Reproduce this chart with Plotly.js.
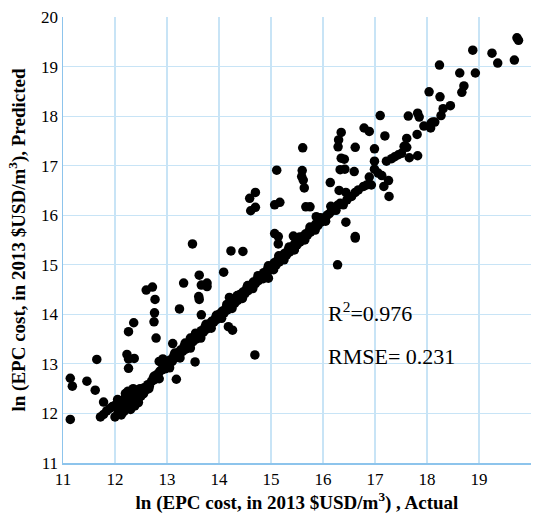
<!DOCTYPE html>
<html>
<head>
<meta charset="utf-8">
<script src="https://cdn.plot.ly/plotly-3.0.1.min.js"></script>
<style>html,body{margin:0;padding:0;background:#fff;}#chart{width:539px;height:517px;}</style>
</head>
<body>
<div id="chart"></div>
<script>
// Dense band of points along the diagonal (Actual, Predicted)
var bandActual = [11.72,11.78,11.84,11.90,11.95,12.00,12.02,12.06,12.08,12.12,12.14,12.15,12.18,12.20,12.22,12.25,12.27,12.30,12.32,12.34,12.37,12.40,12.42,12.45,12.48,12.50,12.53,12.56,12.60,12.63,12.66,12.70,12.73,12.76,12.80,12.83,12.86,12.90,12.93,12.96,13.00,13.03,13.06,13.10,13.13,13.16,13.20,13.23,13.26,13.30,13.33,13.36,13.40,13.43,13.46,13.50,13.53,13.56,13.60,13.63,13.66,13.70,13.73,13.76,13.80,13.83,13.86,13.90,13.93,13.96,14.00,14.03,14.06,14.10,14.13,14.16,14.20,14.23,14.26,14.30,14.33,14.36,14.40,14.43,14.46,14.50,14.53,14.56,14.60,14.63,14.66,14.70,14.73,14.76,14.80,14.83,14.86,14.90,14.93,14.96,15.00,15.03,15.06,15.10,15.13,15.16,15.20,15.23,15.26,15.30,15.33,15.36,15.40,15.43,15.46,15.50,15.53,15.56,15.60,15.63,15.66,15.70,15.73,15.76,15.80,15.83,15.86,15.90,15.93,15.96,16.00,16.04,16.08,16.12,16.16,16.20,16.24,16.28,16.33,12.25,12.35,12.45,12.38,12.30,12.20,12.85,12.92,13.55,13.45,14.95];
var bandPredicted = [11.93,11.98,12.05,12.10,12.14,11.93,12.18,12.02,12.22,11.97,12.10,12.27,12.05,12.32,12.18,12.12,12.38,12.25,12.42,12.18,12.32,12.46,12.28,12.38,12.50,12.35,12.44,12.52,12.48,12.58,12.55,12.64,12.70,12.68,12.78,12.74,12.85,12.88,12.95,12.90,13.02,12.97,13.08,13.05,13.16,13.12,13.22,13.18,13.28,13.25,13.36,13.30,13.42,13.38,13.48,13.45,13.56,13.50,13.60,13.57,13.67,13.64,13.74,13.70,13.80,13.76,13.86,13.84,13.92,13.90,14.00,13.96,14.06,14.03,14.12,14.09,14.18,14.15,14.26,14.22,14.32,14.28,14.40,14.36,14.45,14.42,14.52,14.48,14.58,14.54,14.65,14.62,14.70,14.68,14.77,14.74,14.84,14.82,14.90,14.88,14.97,14.94,15.04,15.00,15.10,15.06,15.17,15.13,15.23,15.20,15.30,15.26,15.36,15.32,15.43,15.40,15.50,15.46,15.56,15.52,15.62,15.60,15.68,15.66,15.75,15.72,15.82,15.79,15.88,15.86,15.94,15.93,16.00,16.03,16.08,16.12,16.16,16.20,16.24,12.45,12.50,12.22,12.15,12.08,12.40,13.05,13.10,13.58,13.52,14.73];

// Second row of the band, filling out its width
var band2Actual = [12.05,12.15,12.25,12.35,12.45,12.55,12.65,12.75,12.85,12.95,13.05,13.15,13.25,13.35,13.45,13.55,13.65,13.75,13.85,13.95,14.05,14.15,14.25,14.35,14.45,14.55,14.65,14.75,14.85,14.95,15.05,15.15,15.25,15.35,15.45,15.55,15.65,15.75,15.85,15.95,16.05,16.15,16.25];
var band2Predicted = [12.28,12.02,12.30,12.42,12.30,12.40,12.50,12.75,12.70,13.00,12.92,13.22,13.12,13.42,13.32,13.62,13.52,13.80,13.72,13.98,13.92,14.20,14.12,14.38,14.32,14.58,14.52,14.78,14.72,14.98,14.90,15.18,15.10,15.36,15.30,15.56,15.50,15.76,15.70,15.95,15.88,16.18,16.10];

// Scattered points away from the band (Actual, Predicted)
var outActual = [11.14,11.18,11.14,11.46,11.62,11.65,11.78,12.26,12.36,12.23,12.26,12.37,12.26,12.60,12.72,12.77,12.76,12.75,12.79,13.11,13.18,13.24,13.32,13.54,13.62,13.61,13.62,13.66,13.77,13.77,13.66,14.09,14.20,14.18,14.26,14.69,13.49,14.23,14.46,14.59,14.70,14.61,14.70,15.11,15.07,15.17,15.67,15.75,15.87,15.07,15.14,15.14,15.43,15.62,15.61,15.60,15.59,15.62,15.64,16.28,16.62,16.62,16.44,16.14,16.31,16.44,16.35,16.30,16.29,16.35,16.41,16.33,16.42,16.60,16.62,16.79,16.89,16.99,16.99,16.99,17.06,17.13,17.26,17.17,17.27,16.89,16.39,16.46,16.55,16.62,16.68,16.78,16.84,16.93,17.10,17.19,17.22,17.32,17.38,17.45,17.51,17.56,17.61,17.61,17.66,17.82,17.81,17.64,17.82,17.85,17.94,18.07,18.08,18.15,18.11,18.27,18.31,18.45,18.25,18.04,18.67,18.71,18.63,18.93,18.24,18.88,19.25,19.36,19.68,19.73,19.76];
var outPredicted = [12.71,12.55,11.88,12.65,12.47,13.09,12.23,13.65,13.83,13.19,13.10,13.11,12.91,14.49,14.55,14.30,14.03,13.85,13.52,13.41,12.69,14.11,14.63,13.04,14.79,14.36,14.30,14.59,14.63,14.56,13.99,14.85,14.34,13.75,13.68,13.18,15.42,15.28,15.27,16.34,16.46,16.09,16.16,16.91,16.21,16.26,16.17,16.17,15.97,15.63,15.57,15.42,15.58,15.55,17.36,16.90,16.78,16.71,16.55,15.00,15.57,15.54,15.86,16.66,16.50,16.46,17.67,17.52,17.38,17.15,17.13,16.92,16.93,16.88,17.37,17.76,17.69,17.34,17.09,16.93,16.85,16.80,16.70,16.58,16.38,16.77,16.21,16.31,16.38,16.46,16.51,16.58,16.61,16.61,18.01,17.60,17.09,17.14,17.18,17.22,17.25,17.39,17.37,17.55,17.16,17.20,17.63,18.00,18.06,17.98,17.80,17.76,17.86,17.88,17.88,18.01,18.15,18.21,18.39,18.49,18.48,18.61,18.87,18.87,19.03,19.33,19.27,19.07,19.13,19.58,19.53];

var tickVals = [11,12,13,14,15,16,17,18,19,20];
var statLabels = ['R<sup>2</sup>=0.976', 'RMSE= 0.231'];

var xs = bandActual.concat(band2Actual, outActual);
var ys = bandPredicted.concat(band2Predicted, outPredicted);

var serif = 'Liberation Serif';
var trace = {
  x: xs, y: ys, type: 'scatter', mode: 'markers',
  marker: {color: '#000000', size: 9.5, line: {width: 0}},
  hoverinfo: 'skip', showlegend: false
};

function makeAxis(titleText, standoff) {
  return {
    range: [11, 20], tickvals: tickVals, ticktext: tickVals.map(String),
    showgrid: true, gridcolor: '#C8E4F6', gridwidth: 1.2,
    showline: true, linecolor: '#8DC4EC', linewidth: 1.5,
    zeroline: false, ticks: '', fixedrange: true,
    tickfont: {family: serif, size: 17, color: '#000'},
    title: {text: titleText, font: {family: serif, size: 19, color: '#000', weight: 'bold'}, standoff: standoff}
  };
}

var layout = {
  width: 539, height: 517,
  font: {family: serif, size: 17, color: '#000'},
  margin: {l: 63, r: 8, t: 17, b: 54},
  paper_bgcolor: '#ffffff', plot_bgcolor: '#ffffff',
  xaxis: makeAxis('ln (EPC cost, in 2013 $USD/m<sup>3</sup>) , Actual', 6),
  yaxis: makeAxis('ln (EPC cost, in 2013 $USD/m<sup>3</sup>), Predicted', 10),
  annotations: [
    {x: 16.06, y: 14.05, xref: 'x', yref: 'y', text: statLabels[0], showarrow: false, xanchor: 'left', yanchor: 'middle', font: {family: serif, size: 22, color: '#000'}},
    {x: 16.06, y: 13.14, xref: 'x', yref: 'y', text: statLabels[1], showarrow: false, xanchor: 'left', yanchor: 'middle', font: {family: serif, size: 22, color: '#000'}}
  ]
};

Plotly.newPlot('chart', [trace], layout, {displayModeBar: false, staticPlot: true});
</script>
</body>
</html>
